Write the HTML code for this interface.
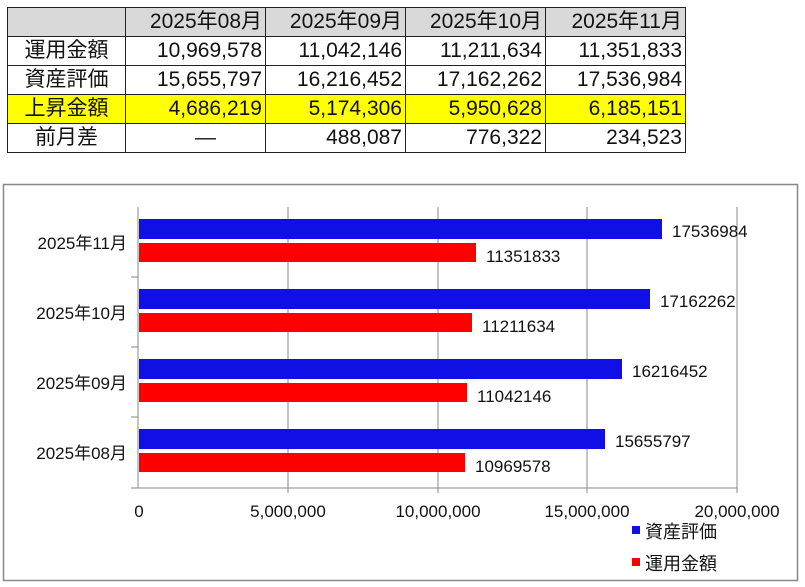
<!DOCTYPE html>
<html><head><meta charset="utf-8"><style>
body{margin:0;width:805px;height:587px;background:#fff;position:relative;overflow:hidden;font-family:"Liberation Sans","Noto Sans CJK JP",sans-serif}
table{position:absolute;left:7px;top:7px;border-collapse:collapse;font-size:21px;color:#111}
td{border:1.5px solid #222;height:28px;padding:0 3px 0 0;text-align:right;line-height:28px}
td.h{text-align:center;padding:0}
tr.hd td{background:#d9d9d9}
tr.y td{background:#ffff00}
svg{position:absolute;left:0;top:0}
</style></head><body>
<table>
<colgroup><col style="width:118px"><col style="width:140px"><col style="width:140px"><col style="width:140px"><col style="width:140px"></colgroup>
<tr class="hd"><td class="h"></td><td>2025年08月</td><td>2025年09月</td><td>2025年10月</td><td>2025年11月</td></tr>
<tr><td class="h">運用金額</td><td>10,969,578</td><td>11,042,146</td><td>11,211,634</td><td>11,351,833</td></tr>
<tr><td class="h">資産評価</td><td>15,655,797</td><td>16,216,452</td><td>17,162,262</td><td>17,536,984</td></tr>
<tr class="y"><td class="h">上昇金額</td><td>4,686,219</td><td>5,174,306</td><td>5,950,628</td><td>6,185,151</td></tr>
<tr><td class="h">前月差</td><td class="h" style="padding-left:20px">—</td><td>488,087</td><td>776,322</td><td>234,523</td></tr>
</table>
<svg width="805" height="587" font-family="Liberation Sans, Noto Sans CJK JP, sans-serif">
<rect x="3.5" y="184.5" width="794" height="396" fill="#fff" stroke="#888" stroke-width="1.5"/>
<g stroke="#888" stroke-width="1">
<line x1="288" y1="207" x2="288" y2="488"/><line x1="438" y1="207" x2="438" y2="488"/>
<line x1="587" y1="207" x2="587" y2="488"/><line x1="737" y1="207" x2="737" y2="488"/>
<line x1="138" y1="207" x2="138" y2="488"/>
<line x1="131" y1="488" x2="737" y2="488"/>
<line x1="131" y1="277" x2="138" y2="277"/><line x1="131" y1="347" x2="138" y2="347"/><line x1="131" y1="417" x2="138" y2="417"/>
<line x1="288" y1="488" x2="288" y2="493"/><line x1="438" y1="488" x2="438" y2="493"/><line x1="587" y1="488" x2="587" y2="493"/><line x1="737" y1="488" x2="737" y2="493"/>
</g>
<g>
<rect x="139" y="219" width="523" height="20" fill="#1010e6"/><rect x="139" y="243" width="337" height="19" fill="#ff0000"/>
<rect x="139" y="289" width="511" height="20" fill="#1010e6"/><rect x="139" y="313" width="333" height="19" fill="#ff0000"/>
<rect x="139" y="359" width="483" height="20" fill="#1010e6"/><rect x="139" y="383" width="328" height="19" fill="#ff0000"/>
<rect x="139" y="429" width="466" height="20" fill="#1010e6"/><rect x="139" y="453" width="326" height="19" fill="#ff0000"/>
</g>
<g font-size="17" fill="#111">
<text x="672" y="237">17536984</text><text x="486" y="262">11351833</text>
<text x="660" y="307">17162262</text><text x="482" y="332">11211634</text>
<text x="632" y="377">16216452</text><text x="477" y="402">11042146</text>
<text x="615" y="447">15655797</text><text x="475" y="472">10969578</text>
</g>
<g font-size="17" fill="#111" text-anchor="end">
<text x="127" y="249">2025年11月</text><text x="127" y="319">2025年10月</text>
<text x="127" y="389">2025年09月</text><text x="127" y="459">2025年08月</text>
</g>
<g font-size="17" fill="#111" text-anchor="middle">
<text x="139" y="517">0</text><text x="288" y="517">5,000,000</text><text x="438" y="517">10,000,000</text>
<text x="587" y="517">15,000,000</text><text x="737" y="517">20,000,000</text>
</g>
<rect x="632" y="526" width="8" height="8" fill="#1010e6"/><text x="645" y="538" font-size="18" fill="#111">資産評価</text>
<rect x="632" y="558" width="8" height="8" fill="#ff0000"/><text x="645" y="570" font-size="18" fill="#111">運用金額</text>
</svg>
</body></html>
